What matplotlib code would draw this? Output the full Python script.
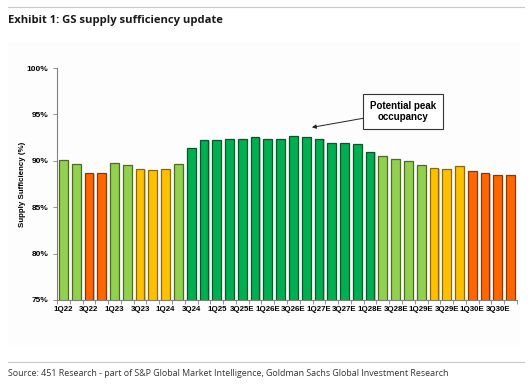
import matplotlib
matplotlib.use("Agg")
import matplotlib.pyplot as plt
from matplotlib.patches import Rectangle
from matplotlib.lines import Line2D

quarters = ["1Q22", "2Q22", "3Q22", "4Q22", "1Q23", "2Q23", "3Q23", "4Q23",
            "1Q24", "2Q24", "3Q24", "4Q24", "1Q25", "2Q25", "3Q25E", "4Q25E",
            "1Q26E", "2Q26E", "3Q26E", "4Q26E", "1Q27E", "2Q27E", "3Q27E", "4Q27E",
            "1Q28E", "2Q28E", "3Q28E", "4Q28E", "1Q29E", "2Q29E", "3Q29E", "4Q29E",
            "1Q30E", "2Q30E", "3Q30E", "4Q30E"]
sufficiency = [90.1, 89.65, 88.65, 88.65, 89.75, 89.5, 89.1, 89.0,
               89.1, 89.65, 91.35, 92.2, 92.2, 92.4, 92.35, 92.55,
               92.35, 92.35, 92.65, 92.55, 92.35, 91.9, 91.9, 91.8,
               91.0, 90.5, 90.2, 90.0, 89.5, 89.2, 89.1, 89.4,
               88.85, 88.65, 88.45, 88.45]
band = ["lg", "lg", "or", "or", "lg", "lg", "ye", "ye",
        "ye", "lg", "dg", "dg", "dg", "dg", "dg", "dg",
        "dg", "dg", "dg", "dg", "dg", "dg", "dg", "dg",
        "dg", "lg", "lg", "lg", "lg", "ye", "ye", "ye",
        "or", "or", "or", "or"]
yticks = [75, 80, 85, 90, 95, 100]

face = {"lg": "#92D050", "or": "#FF6600", "ye": "#FFC000", "dg": "#00B050"}
edge = {"lg": "#4E6B1F", "or": "#8A3A00", "ye": "#8A6A00", "dg": "#005A2A"}

fig = plt.figure(figsize=(5.32, 3.85), dpi=100)
fig.patch.set_facecolor("white")

# background panel and rules
fig.add_artist(Rectangle((8/532, 1-345/385), 512/532, 303/385,
                         transform=fig.transFigure, facecolor="#FDFDFD",
                         edgecolor="none", zorder=0))
fig.add_artist(Line2D([8/532, 524/532], [1-7/385, 1-7/385], color="#C8C8C8", lw=0.8))
fig.add_artist(Line2D([8/532, 524/532], [1-362/385, 1-362/385], color="#C8C8C8", lw=0.8))

fig.text(8/532, 1-20/385, "Exhibit 1: GS supply sufficiency update",
         fontsize=8.1, fontweight="bold", family="Open Sans", va="center", ha="left",
         color="#1a1a1a")
fig.text(8/532, 1-374/385,
         "Source: 451 Research - part of S&P Global Market Intelligence, Goldman Sachs Global Investment Research",
         fontsize=6.4, family="Open Sans", va="center", ha="left", color="#333333")

ax = fig.add_axes([57/532, 1-300/385, 460/532, 232/385])
ax.set_facecolor("none")

x = list(range(len(quarters)))
# subtle shadow
ax.bar([i + 0.1 for i in x], [v - 0.05 for v in sufficiency], width=0.68,
       bottom=0, color="#C8C8C8", edgecolor="none", zorder=1)
ax.bar(x, sufficiency, width=0.68,
       color=[face[b] for b in band], edgecolor=[edge[b] for b in band],
       linewidth=0.9, zorder=2)

ax.set_ylim(75, 100)
ax.set_xlim(-0.5, len(quarters) - 0.5)
ax.set_yticks(yticks)
ax.set_yticklabels([f"{t}%" for t in yticks], fontsize=6, fontweight="bold",
                   family="Liberation Sans")
ax.set_xticks(x[::2])
ax.set_xticklabels(quarters[::2], fontsize=5.7, fontweight="bold", family="Liberation Sans")
ax.set_xticks([i - 0.5 for i in range(len(quarters) + 1)], minor=True)
ax.tick_params(axis="x", which="major", length=0, pad=4)
ax.tick_params(axis="x", which="minor", length=3, width=0.6, color="#808080", direction="out")
ax.tick_params(axis="y", length=3, width=0.6, color="#808080", pad=3)
for s in ["top", "right"]:
    ax.spines[s].set_visible(False)
for s in ["left", "bottom"]:
    ax.spines[s].set_color("#808080")
    ax.spines[s].set_linewidth(0.8)

ax.set_ylabel("Supply Sufficiency (%)", fontsize=5.7, fontweight="bold",
              family="Liberation Sans", labelpad=1)

ax.annotate("Potential peak\noccupancy", xy=(19.45, 93.6), xytext=(26.6, 95.35),
            ha="center", va="center", fontsize=7, fontweight="bold",
            family="Liberation Sans", linespacing=1.15,
            bbox=dict(boxstyle="square,pad=0.7", facecolor="white",
                      edgecolor="#333333", linewidth=0.8),
            arrowprops=dict(arrowstyle="-|>", color="#222222", lw=0.7,
                            mutation_scale=6, shrinkA=0, shrinkB=0))

fig.savefig("out.png", dpi=100, facecolor="white")
